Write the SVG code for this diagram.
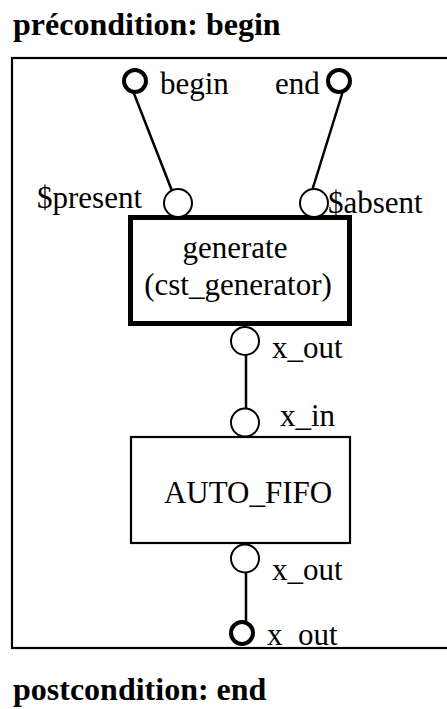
<svg xmlns="http://www.w3.org/2000/svg" width="447" height="709" viewBox="0 0 447 709">
<style>
text{font-family:"Liberation Serif","Times New Roman",serif;fill:#000}
.title{font-size:32px;font-weight:bold}
.lbl{font-size:31px}
.port{fill:#fff;stroke:#000;stroke-width:2}
.ext{fill:#fff;stroke:#000;stroke-width:4}
.conn{stroke:#000;stroke-width:2.5;fill:none}
</style>
<rect width="447" height="709" fill="#fff"/>
<text class="title" x="13" y="35">précondition: begin</text>
<text class="title" x="13" y="700">postcondition: end</text>
<g id="frame"><rect x="12" y="58" width="460" height="590" fill="none" stroke="#000" stroke-width="2.2"/></g>
<g id="connectors">
<line class="conn" x1="133" y1="91" x2="174" y2="196"/>
<line class="conn" x1="343" y1="91" x2="311" y2="194"/>
<line class="conn" x1="246" y1="352" x2="246" y2="412"/>
<line class="conn" x1="246" y1="570" x2="246" y2="624"/>
</g>
<g id="begin"><circle class="ext" cx="135" cy="81" r="11"/><text class="lbl" x="160" y="94">begin</text></g>
<g id="end"><circle class="ext" cx="339" cy="81" r="11"/><text class="lbl" x="275" y="94">end</text></g>
<g id="generate">
<rect x="130.5" y="217.5" width="219" height="106" fill="#fff" stroke="#000" stroke-width="5"/>
<text class="lbl" x="235" y="258" text-anchor="middle">generate</text>
<text class="lbl" x="238" y="295" text-anchor="middle">(cst_generator)</text>
<circle class="port" cx="178" cy="203" r="14"/><text class="lbl" x="37" y="208">$present</text>
<circle class="port" cx="314" cy="203" r="14"/><text class="lbl" x="328" y="213">$absent</text>
<circle class="port" cx="245" cy="341" r="14"/><text class="lbl" x="272" y="358">x_out</text>
</g>
<g id="auto_fifo">
<rect x="131" y="437" width="219" height="106" fill="#fff" stroke="#000" stroke-width="2.2"/>
<text class="lbl" x="248" y="503" text-anchor="middle">AUTO_FIFO</text>
<circle class="port" cx="245" cy="422.5" r="14"/><text class="lbl" x="280" y="426">x_in</text>
<circle class="port" cx="245" cy="558.5" r="14"/><text class="lbl" x="272" y="580">x_out</text>
</g>
<g id="x_out_ext"><circle class="ext" cx="242" cy="633" r="11"/><text class="lbl" x="267" y="645">x_out</text></g>
</svg>
